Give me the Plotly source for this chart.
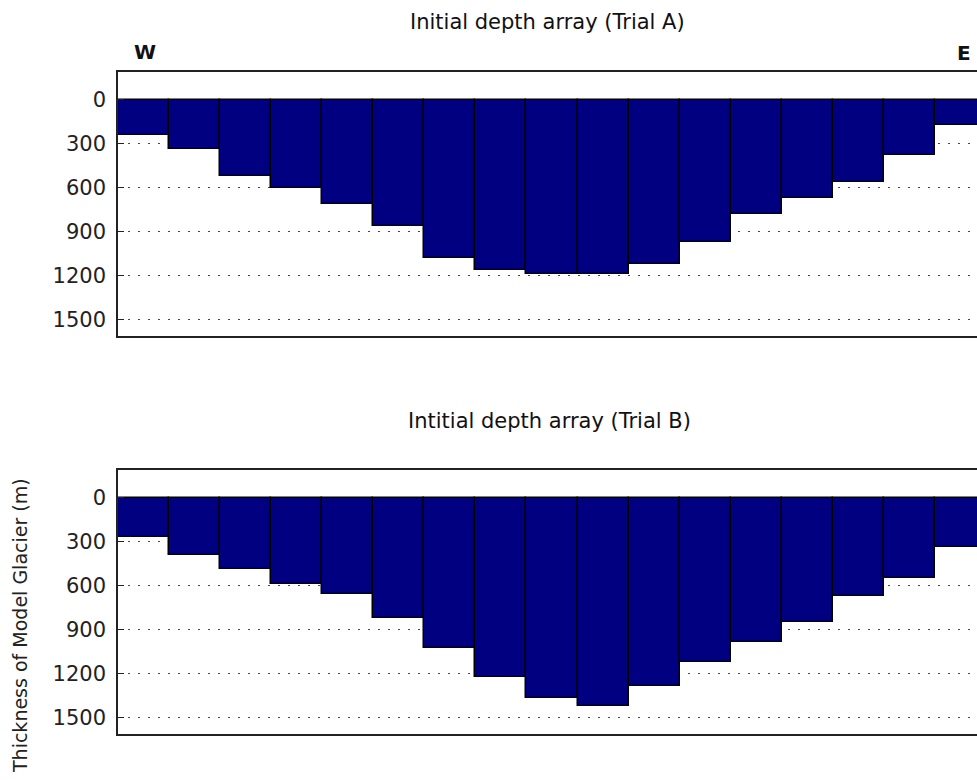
import plotly.graph_objects as go
from plotly.subplots import make_subplots

W_PX, H_PX = 977, 780

positions = list(range(1, 18))
depth_a = [240, 334, 522, 602, 711, 857, 1080, 1160, 1190, 1190, 1120, 968, 777, 670, 561, 378, 170]
depth_b = [266, 391, 484, 586, 658, 821, 1027, 1218, 1366, 1420, 1286, 1118, 982, 845, 671, 548, 334]
y_ticks = [0, 300, 600, 900, 1200, 1500]
title_a = "Initial depth array (Trial A)"
title_b = "Intitial depth array (Trial B)"
y_label = "Thickness of Model Glacier (m)"

FONT = "DejaVu Sans"
BAR = "#000080"

fig = make_subplots(rows=2, cols=1, vertical_spacing=0.0)

for i, vals in enumerate([depth_a, depth_b], start=1):
    fig.add_trace(go.Bar(x=positions, y=vals, width=1.0,
                         marker=dict(color=BAR, line=dict(color="black", width=1.5)),
                         showlegend=False), row=i, col=1)

def px_x(px):
    return px / W_PX

def px_y(px):
    return 1 - px / H_PX

left_px = 118
x_end = 0.5 + (W_PX - left_px) / 51.06

domains = [(px_y(336), px_y(72)), (px_y(734), px_y(470))]
for i, dom in enumerate(domains, start=1):
    xa = "xaxis" if i == 1 else f"xaxis{i}"
    ya = "yaxis" if i == 1 else f"yaxis{i}"
    fig.layout[xa].update(domain=[px_x(left_px), 1.0], range=[0.5, x_end],
                          showline=True, mirror=True, linecolor="#222", linewidth=1.5,
                          showticklabels=False, ticks="", showgrid=False, zeroline=False)
    fig.layout[ya].update(domain=list(dom), range=[1610, -190],
                          tickvals=y_ticks, ticktext=[str(t) for t in y_ticks],
                          showline=True, mirror=False, linecolor="#222", linewidth=1.5,
                          ticks="inside", ticklen=6, tickcolor="#222",
                          showgrid=True, gridcolor="#444", gridwidth=1.2, griddash="2px,8px",
                          zeroline=False, ticklabelstandoff=6,
                          tickfont=dict(family=FONT, size=21, color="#222"))

annos = [
    dict(text=title_a, x=547, y=22, size=21),
    dict(text=title_b, x=549, y=421, size=21),
    dict(text="<b>W</b>", x=145, y=52, size=20),
    dict(text="<b>E</b>", x=964, y=53, size=20),
]
for a in annos:
    fig.add_annotation(text=a["text"], x=px_x(a["x"]), y=px_y(a["y"]), xref="paper", yref="paper",
                       xanchor="center", yanchor="middle", showarrow=False,
                       font=dict(family=FONT, size=a["size"], color="#111"))
fig.add_annotation(text=y_label, x=px_x(20), y=px_y(626), xref="paper", yref="paper",
                   xanchor="center", yanchor="middle", showarrow=False, textangle=-90,
                   font=dict(family=FONT, size=19, color="#222"))

fig.update_layout(width=W_PX, height=H_PX, margin=dict(l=0, r=0, t=0, b=0),
                  paper_bgcolor="white", plot_bgcolor="white", bargap=0)

fig.write_html("out.html", config={"displayModeBar": False},
               post_script="document.body.style.margin='0';document.body.style.overflow='hidden';")
